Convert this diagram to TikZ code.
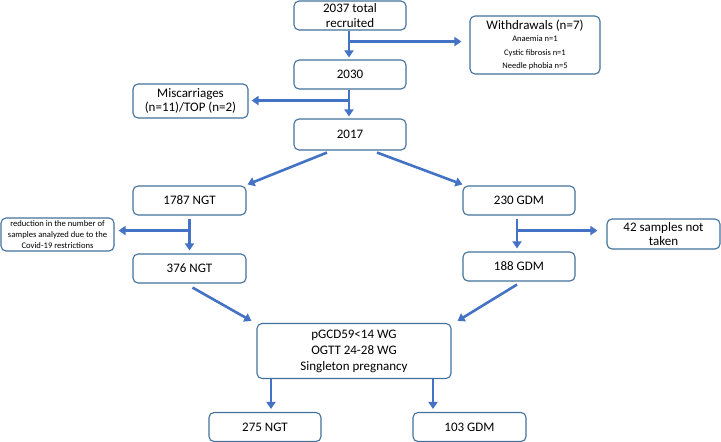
\documentclass[tikz,border=0pt]{standalone}
\usepackage{fontspec}
\setmainfont{Carlito}
\usetikzlibrary{arrows.meta,calc}
\definecolor{arrblue}{HTML}{4472C4}
\definecolor{boxline}{HTML}{41719C}
\begin{document}
\begin{tikzpicture}[x=1pt,y=-1pt,
  box/.style={draw=boxline,line width=1.1pt,rounded corners=5pt,fill=white,inner sep=1pt,align=center,font=\fontsize{13}{14.5}\selectfont},
  arr/.style={draw=arrblue,line width=2.6pt,-{Triangle[width=9pt,length=7pt]}}]
\useasboundingbox (0,0) rectangle (721,442);
\node[box,minimum width=112pt,minimum height=29pt] (top) at (350,15.5) {2037 total\\recruited};
\node[box,minimum width=130pt,minimum height=58pt] (wd) at (535,45) {Withdrawals (n=7)\\[-2pt]{\fontsize{8.5}{11}\selectfont Anaemia n=1}\\[-1pt]{\fontsize{8.5}{11}\selectfont Cystic fibrosis n=1}\\[-1pt]{\fontsize{8.5}{11}\selectfont Needle phobia n=5}};
\node[box,minimum width=112pt,minimum height=29pt] (n2030) at (350,74.5) {2030};
\node[box,minimum width=115pt,minimum height=34pt] (misc) at (190.5,101) {Miscarriages\\(n=11)/TOP (n=2)};
\node[box,minimum width=112pt,minimum height=31pt] (n2017) at (350,134.5) {2017};
\node[box,minimum width=113pt,minimum height=29pt] (ngt1787) at (189.5,200.5) {1787 NGT};
\node[box,minimum width=113pt,minimum height=33pt,font=\fontsize{8.6}{10.7}\selectfont] (red) at (57.5,234.5) {reduction in the number of\\samples analyzed due to the\\Covid-19 restrictions};
\node[box,minimum width=113pt,minimum height=29pt] (ngt376) at (189.5,268.5) {376 NGT};
\node[box,minimum width=112pt,minimum height=29pt] (gdm230) at (519,200.5) {230 GDM};
\node[box,minimum width=113pt,minimum height=30pt] (s42) at (663.5,234) {42 samples not\\taken};
\node[box,minimum width=112pt,minimum height=29pt] (gdm188) at (519,266.5) {188 GDM};
\node[box,minimum width=194pt,minimum height=55pt,font=\fontsize{13}{16}\selectfont] (ctr) at (354,351) {pGCD59<14 WG\\OGTT 24-28 WG\\Singleton pregnancy};
\node[box,minimum width=112pt,minimum height=29pt] (ngt275) at (265,427) {275 NGT};
\node[box,minimum width=113pt,minimum height=29pt] (gdm103) at (469.5,427) {103 GDM};
% verticals with branches
\draw[arr] ($(top.south)+(-1,0)$) -- ($(n2030.north)+(-1,-2)$);
\coordinate (b1) at ($(top.south)+(-1,11)$);
\draw[arr] (b1) -- ($(b1 -| wd.west)+(-8,0)$);
\draw[arr] ($(n2030.south)+(-1,0)$) -- ($(n2017.north)+(-1,-2)$);
\coordinate (b2) at ($(n2030.south)+(-1,11)$);
\draw[arr] (b2) -- ($(b2 -| misc.east)+(3,0)$);
\draw[arr] ($(ngt1787.south)+(0,3)$) -- ($(ngt376.north)+(0,-3)$);
\coordinate (b3) at ($(ngt1787.south)+(0,15)$);
\draw[arr] (b3) -- ($(b3 -| red.east)+(4,0)$);
\draw[arr] ($(gdm230.south)+(-2,3)$) -- ($(gdm188.north)+(-2,-3)$);
\coordinate (b4) at ($(gdm230.south)+(-2,15)$);
\draw[arr] (b4) -- ($(b4 -| s42.west)+(-9,0)$);
% diagonals
\draw[arr] ($(n2017.south)+(-23,2)$) -- ($(ngt1787.north east)+(1,-1)$);
\draw[arr] ($(n2017.south)+(27,2)$) -- ($(gdm230.north west)+(0,-1)$);
\draw[arr] ($(ngt376.south)+(3,4)$) -- ($(ctr.north west)+(-5,-2)$);
\draw[arr] ($(gdm188.south)+(-2,3)$) -- ($(ctr.north east)+(6,-2)$);
% bottom
\draw[arr] ($(ngt275.north |- ctr.south)+(6,0)$) -- ($(ngt275.north)+(6,-3)$);
\draw[arr] ($(gdm103.north |- ctr.south)+(-36.5,0)$) -- ($(gdm103.north)+(-36.5,-3)$);
\end{tikzpicture}
\end{document}
